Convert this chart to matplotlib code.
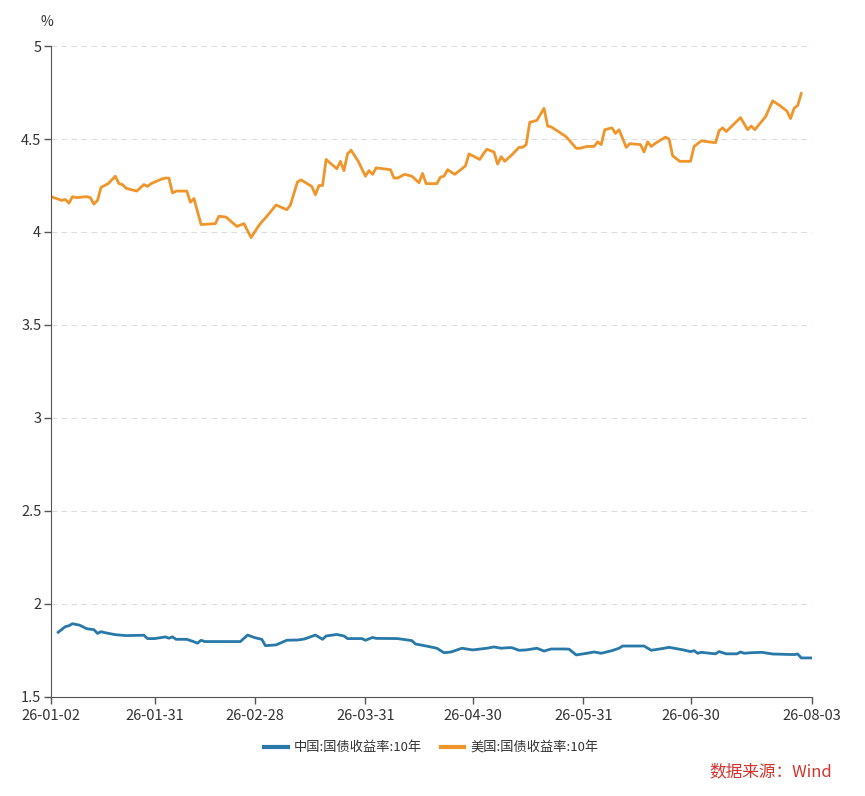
import pandas as pd
import matplotlib
matplotlib.use("Agg")
import matplotlib.pyplot as plt
import matplotlib.dates as mdates

plt.rcParams['font.family'] = ['Noto Sans CJK SC', 'DejaVu Sans']

# 中国 10年国债收益率 (%)
cn_dates = ['2026-01-04', '2026-01-06', '2026-01-07', '2026-01-08', '2026-01-10', '2026-01-12',
            '2026-01-14', '2026-01-15', '2026-01-16', '2026-01-17', '2026-01-20', '2026-01-23',
            '2026-01-28', '2026-01-29', '2026-01-31', '2026-02-03', '2026-02-04', '2026-02-05',
            '2026-02-06', '2026-02-09', '2026-02-11', '2026-02-12', '2026-02-13', '2026-02-14',
            '2026-02-24', '2026-02-26', '2026-02-28', '2026-03-02', '2026-03-03', '2026-03-06',
            '2026-03-09', '2026-03-11', '2026-03-12', '2026-03-14', '2026-03-17', '2026-03-19',
            '2026-03-20', '2026-03-23', '2026-03-25', '2026-03-26', '2026-03-30', '2026-03-31',
            '2026-04-02', '2026-04-03', '2026-04-09', '2026-04-13', '2026-04-14', '2026-04-17',
            '2026-04-20', '2026-04-22', '2026-04-24', '2026-04-27', '2026-04-30', '2026-05-04',
            '2026-05-06', '2026-05-08', '2026-05-10', '2026-05-11', '2026-05-13', '2026-05-15',
            '2026-05-18', '2026-05-20', '2026-05-22', '2026-05-26', '2026-05-27', '2026-05-29',
            '2026-06-01', '2026-06-03', '2026-06-05', '2026-06-08', '2026-06-10', '2026-06-11',
            '2026-06-17', '2026-06-19', '2026-06-22', '2026-06-24', '2026-06-28', '2026-06-30',
            '2026-07-01', '2026-07-02', '2026-07-03', '2026-07-07', '2026-07-08', '2026-07-10',
            '2026-07-13', '2026-07-14', '2026-07-15', '2026-07-17', '2026-07-20', '2026-07-23',
            '2026-07-29', '2026-07-30', '2026-07-31', '2026-08-03']
cn_yield = [1.848, 1.878, 1.883, 1.894, 1.886, 1.867,
            1.862, 1.842, 1.851, 1.846, 1.835, 1.830,
            1.832, 1.814, 1.814, 1.823, 1.816, 1.823,
            1.810, 1.810, 1.797, 1.789, 1.805, 1.798,
            1.798, 1.833, 1.819, 1.810, 1.776, 1.780,
            1.805, 1.806, 1.806, 1.812, 1.833, 1.810,
            1.828, 1.836, 1.828, 1.814, 1.814, 1.805,
            1.820, 1.815, 1.814, 1.803, 1.785, 1.774,
            1.762, 1.738, 1.742, 1.762, 1.753, 1.762,
            1.769, 1.762, 1.765, 1.765, 1.751, 1.753,
            1.762, 1.747, 1.758, 1.758, 1.757, 1.726,
            1.735, 1.742, 1.735, 1.749, 1.762, 1.774,
            1.774, 1.751, 1.760, 1.767, 1.753, 1.744,
            1.749, 1.735, 1.740, 1.732, 1.744, 1.732,
            1.732, 1.742, 1.735, 1.738, 1.740, 1.731,
            1.728, 1.731, 1.710, 1.710]

# 美国 10年国债收益率 (%)
us_dates = ['2026-01-02', '2026-01-05', '2026-01-06', '2026-01-07', '2026-01-08', '2026-01-09',
            '2026-01-12', '2026-01-13', '2026-01-14', '2026-01-15', '2026-01-16', '2026-01-18',
            '2026-01-20', '2026-01-21', '2026-01-22', '2026-01-23', '2026-01-26', '2026-01-28',
            '2026-01-29', '2026-01-30', '2026-02-02', '2026-02-03', '2026-02-04', '2026-02-05',
            '2026-02-06', '2026-02-09', '2026-02-10', '2026-02-11', '2026-02-13', '2026-02-17',
            '2026-02-18', '2026-02-20', '2026-02-23', '2026-02-25', '2026-02-27', '2026-03-01',
            '2026-03-02', '2026-03-03', '2026-03-06', '2026-03-09', '2026-03-10', '2026-03-12',
            '2026-03-13', '2026-03-16', '2026-03-17', '2026-03-18', '2026-03-19', '2026-03-20',
            '2026-03-23', '2026-03-24', '2026-03-25', '2026-03-26', '2026-03-27', '2026-03-29',
            '2026-03-31', '2026-04-01', '2026-04-02', '2026-04-03', '2026-04-05', '2026-04-07',
            '2026-04-08', '2026-04-09', '2026-04-11', '2026-04-13', '2026-04-15', '2026-04-16',
            '2026-04-17', '2026-04-20', '2026-04-21', '2026-04-22', '2026-04-23', '2026-04-25',
            '2026-04-28', '2026-04-29', '2026-05-02', '2026-05-03', '2026-05-04', '2026-05-06',
            '2026-05-07', '2026-05-08', '2026-05-09', '2026-05-11', '2026-05-13', '2026-05-14',
            '2026-05-15', '2026-05-16', '2026-05-18', '2026-05-20', '2026-05-21', '2026-05-22',
            '2026-05-26', '2026-05-27', '2026-05-29', '2026-05-30', '2026-06-01', '2026-06-03',
            '2026-06-04', '2026-06-05', '2026-06-06', '2026-06-08', '2026-06-09', '2026-06-10',
            '2026-06-12', '2026-06-13', '2026-06-16', '2026-06-17', '2026-06-18', '2026-06-19',
            '2026-06-20', '2026-06-23', '2026-06-24', '2026-06-25', '2026-06-27', '2026-06-30',
            '2026-07-01', '2026-07-03', '2026-07-07', '2026-07-08', '2026-07-09', '2026-07-10',
            '2026-07-14', '2026-07-16', '2026-07-17', '2026-07-18', '2026-07-21', '2026-07-23',
            '2026-07-25', '2026-07-27', '2026-07-28', '2026-07-29', '2026-07-30', '2026-07-31']
us_yield = [4.19, 4.17, 4.175, 4.155, 4.19, 4.185,
            4.19, 4.185, 4.15, 4.17, 4.24, 4.26,
            4.30, 4.26, 4.255, 4.235, 4.22, 4.255,
            4.245, 4.26, 4.285, 4.29, 4.29, 4.21,
            4.22, 4.22, 4.16, 4.18, 4.04, 4.045,
            4.085, 4.08, 4.03, 4.045, 3.97, 4.03,
            4.055, 4.075, 4.145, 4.12, 4.145, 4.27,
            4.28, 4.245, 4.20, 4.25, 4.25, 4.39,
            4.34, 4.38, 4.33, 4.42, 4.44, 4.38,
            4.30, 4.33, 4.31, 4.345, 4.34, 4.335,
            4.29, 4.29, 4.31, 4.30, 4.265, 4.315,
            4.26, 4.26, 4.295, 4.30, 4.335, 4.31,
            4.355, 4.42, 4.39, 4.42, 4.445, 4.43,
            4.365, 4.405, 4.38, 4.415, 4.455, 4.455,
            4.47, 4.59, 4.60, 4.665, 4.57, 4.565,
            4.515, 4.495, 4.45, 4.45, 4.46, 4.46,
            4.485, 4.47, 4.55, 4.56, 4.53, 4.55,
            4.455, 4.475, 4.47, 4.43, 4.485, 4.46,
            4.475, 4.51, 4.50, 4.41, 4.38, 4.38,
            4.46, 4.49, 4.48, 4.545, 4.56, 4.54,
            4.615, 4.55, 4.57, 4.55, 4.62, 4.705,
            4.68, 4.65, 4.61, 4.665, 4.68, 4.745]

tick_dates = ['2026-01-02', '2026-01-31', '2026-02-28', '2026-03-31',
              '2026-04-30', '2026-05-31', '2026-06-30', '2026-08-03']
y_ticks = [1.5, 2, 2.5, 3, 3.5, 4, 4.5, 5]

cn_color = '#2878a8'
us_color = '#f0952a'

fig = plt.figure(figsize=(8.65, 7.96), dpi=100)
ax = fig.add_axes([0.059, 0.1244, 0.8797, 0.8178])

ax.plot(pd.to_datetime(cn_dates), cn_yield, color=cn_color, lw=2.0, label='中国:国债收益率:10年')
ax.plot(pd.to_datetime(us_dates), us_yield, color=us_color, lw=2.0, label='美国:国债收益率:10年')

ax.set_xlim(pd.Timestamp('2026-01-02'), pd.Timestamp('2026-08-03'))
ax.set_ylim(1.5, 5)
ax.set_xticks(pd.to_datetime(tick_dates))
ax.xaxis.set_major_formatter(mdates.DateFormatter('%y-%m-%d'))
ax.set_yticks(y_ticks)
ax.set_yticklabels([f'{v:g}' for v in y_ticks])

ax.grid(axis='y', color='#dcdcdc', linestyle=(0, (5, 4)), lw=0.8)
ax.set_axisbelow(True)
for side in ['top', 'right']:
    ax.spines[side].set_visible(False)
ax.spines['left'].set_color('#555555')
ax.spines['bottom'].set_color('#555555')
ax.tick_params(axis='both', colors='#555555', labelcolor='#333333', labelsize=10.5, length=5, width=1)
ax.tick_params(axis='x', pad=4)
ax.tick_params(axis='y', pad=2)

ax.text(-0.005, 1.037, '%', transform=ax.transAxes, fontsize=10, color='#333333',
        ha='center', va='center')

ax.legend(loc='upper center', bbox_to_anchor=(0.5, -0.05), ncol=2, frameon=False,
          fontsize=9.5, handlelength=1.8, handletextpad=0.45, columnspacing=1.4,
          labelcolor='#333333')
leg = ax.get_legend()
for h in leg.legend_handles:
    h.set_linewidth(3)

fig.text(0.962, 0.031, '数据来源：Wind', color='#d6322d', fontsize=12, ha='right', va='center')

fig.savefig('out.png', dpi=100)
